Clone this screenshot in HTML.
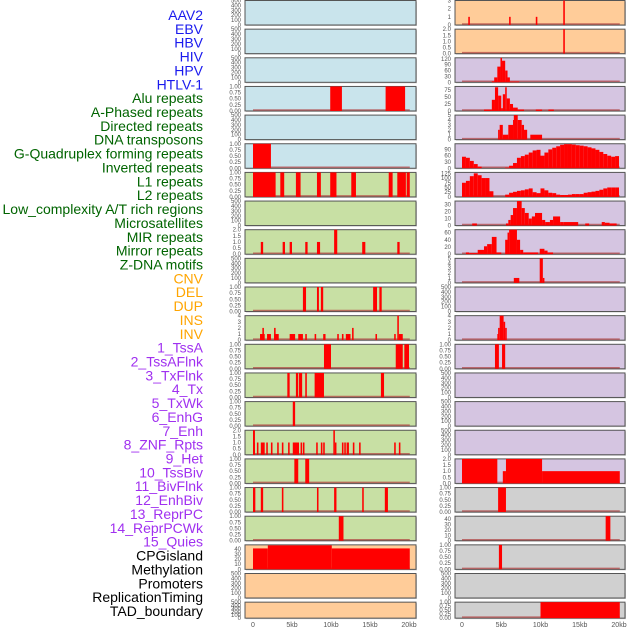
<!DOCTYPE html>
<html><head><meta charset="utf-8">
<style>
html,body{margin:0;padding:0;background:#fff;width:630px;height:630px;overflow:hidden}
svg text{font-family:"Liberation Sans",sans-serif}
</style></head>
<body>
<svg id="chart" width="630" height="630" viewBox="0 0 630 630" xmlns="http://www.w3.org/2000/svg">
<g id="labels"></g>
<g id="panels"></g>
<g id="xaxis"></g>
</svg>
<script>
const trackLabels = ["AAV2","EBV","HBV","HIV","HPV","HTLV-1","Alu repeats","A-Phased repeats","Directed repeats","DNA transposons","G-Quadruplex forming repeats","Inverted repeats","L1 repeats","L2 repeats","Low_complexity A/T rich regions","Microsatellites","MIR repeats","Mirror repeats","Z-DNA motifs","CNV","DEL","DUP","INS","INV","1_TssA","2_TssAFlnk","3_TxFlnk","4_Tx","5_TxWk","6_EnhG","7_Enh","8_ZNF_Rpts","9_Het","10_TssBiv","11_BivFlnk","12_EnhBiv","13_ReprPC","14_ReprPCWk","15_Quies","CPGisland","Methylation","Promoters","ReplicationTiming","TAD_boundary"];
const labelGroupCounts = [6,13,5,15,5];
const labelGroupColors = ["#1a1aee","#006400","#ffa500","#a030f0","#000000"];

const xTickValues = [0,5,10,15,20];
const xTickLabels = ["0","5kb","10kb","15kb","20kb"];

// left column panels (segments [startKb, endKb, value])
const leftSegs = [
 [],[],[],
 [[9.9,11.4,1],[17.0,19.5,1]],
 [],
 [[0,2.3,1]],
 [[0,2.9,1],[3.5,4.0,1],[5.5,6.1,1],[8.2,8.7,1],[9.9,10.7,1],[12.6,13.2,1],[17.4,17.9,1],[18.5,19.6,1],[19.7,20.1,1]],
 [],
 [[1.0,1.3,1],[3.8,4.1,1],[4.7,5.0,1],[6.7,7.0,1],[8.2,8.6,1],[10.4,10.8,2],[14.0,14.4,1],[18.5,18.8,1]],
 [],
 [[6.4,6.8,1],[8.2,8.45,1],[8.7,9.0,1],[15.4,15.9,1],[16.2,16.5,1]],
 [[0.9,1.5,1],[1.2,1.4,2],[1.8,2.3,1],[2.7,3.3,1],[2.7,2.9,2],[4.7,5.4,1],[5.8,6.4,1],[6.7,6.9,1],[7.9,8.1,1],[9.0,9.3,1],[10.8,11.0,1],[11.4,11.6,1],[11.9,12.5,1],[12.7,12.9,2],[15.7,15.9,1],[18.1,18.3,1],[18.5,18.7,4],[18.7,19.2,1]],
 [[9.1,10.0,1],[18.3,19.2,1],[19.4,20.0,1]],
 [[4.4,4.7,1],[5.5,5.8,1],[5.9,6.3,1],[6.7,6.9,1],[7.9,9.1,1],[16.4,16.8,1]],
 [[5.1,5.4,1]],
 [[0,0.25,2],[0,0.25,1],[0.5,0.7,1],[1.0,1.5,1],[1.7,1.9,1],[2.3,2.5,1],[3.1,3.3,1],[3.7,3.9,1],[4.5,4.7,1],[5.1,5.9,1],[6.1,6.3,1],[6.4,6.6,1],[8.1,8.3,1],[8.7,8.9,1],[9.0,9.2,1],[10.3,10.5,2],[10.5,10.7,1],[11.4,11.6,1],[11.7,11.9,1],[12.0,12.3,1],[12.8,13.0,1],[13.6,13.8,1],[18.1,18.3,1],[18.7,18.9,1]],
 [[5.3,5.8,1],[6.7,7.2,1]],
 [[0,0.3,1],[1.0,1.3,1],[3.7,3.9,1],[8.2,8.4,1],[10.4,10.7,1],[14.0,14.2,1],[16.9,17.3,1]],
 [[11.0,11.6,1]],
 [[0,1.9,41],[1.9,10.1,47],[10.1,20.1,41]],
 [],[]
];
const leftMax = [500,500,500,1,500,1,1,500,2,500,1,4,1,1,1,2,1,1,1,48,500,500];
const leftTicks = [
 [0,100,200,300,400,500],[0,100,200,300,400,500],[0,100,200,300,400,500],
 ["0.00","0.25","0.50","0.75","1.00"],[0,100,200,300,400,500],["0.00","0.25","0.50","0.75","1.00"],
 ["0.00","0.25","0.50","0.75","1.00"],[0,100,200,300,400,500],["0.0","0.5","1.0","1.5","2.0"],
 [0,100,200,300,400,500],["0.00","0.25","0.50","0.75","1.00"],[0,1,2,3,4],
 ["0.00","0.25","0.50","0.75","1.00"],["0.00","0.25","0.50","0.75","1.00"],["0.00","0.25","0.50","0.75","1.00"],
 ["0.0","0.5","1.0","1.5","2.0"],["0.00","0.25","0.50","0.75","1.00"],["0.00","0.25","0.50","0.75","1.00"],
 ["0.00","0.25","0.50","0.75","1.00"],[0,10,20,30,40],[0,100,200,300,400,500],[0,100,200,300,400,500]
];
const leftColors = ["#c9e4ec","#c9e4ec","#c9e4ec","#c9e4ec","#c9e4ec","#c9e4ec","#c8e0a4","#c8e0a4","#c8e0a4","#c8e0a4","#c8e0a4","#c8e0a4","#c8e0a4","#c8e0a4","#c8e0a4","#c8e0a4","#c8e0a4","#c8e0a4","#c8e0a4","#ffcc99","#ffcc99","#ffcc99"];

// right column panels
const binsR6 = [55,50,35,20,8,0,0,0,0,0,0,3,12,25,50,58,65,75,85,88,60,75,90,98,105,112,115,115,113,110,108,105,100,95,88,78,68,60,55,58];
const binsR7 = [75,85,110,125,115,100,100,30,0,0,0,12,22,27,32,35,40,45,25,20,45,35,22,20,12,10,10,12,15,15,15,22,25,28,32,38,45,50,50,50];
const rightSegs = [
 [[0.8,1.0,1],[6.0,6.2,1],[9.4,9.6,1],[12.9,13.1,3]],
 [[12.9,13.1,2]],
 [[3.8,4.1,5],[4.1,4.5,25],[4.5,4.9,80],[4.9,5.1,125],[5.1,5.5,110],[5.5,5.8,60],[5.8,6.1,25],[6.1,7.3,4]],
 [[2.8,3.8,5],[3.8,4.2,40],[4.2,4.6,85],[4.6,5.0,55],[5.0,5.2,10],[5.2,5.5,60],[5.5,5.7,85],[5.7,6.1,45],[6.1,6.5,25],[6.5,7.1,12],[7.1,7.9,5],[9.4,10.2,5],[11.0,11.7,5]],
 [[4.6,4.8,2],[4.8,5.2,3],[5.2,5.9,1],[5.9,6.5,3],[6.5,6.6,4],[6.6,7.1,5],[7.1,7.6,4],[7.6,7.9,3],[7.9,8.3,2],[8.7,10.2,1]],
 binsR6.map((v,i)=>[i*0.5,i*0.5+0.5,v]),
 binsR7.map((v,i)=>[i*0.5,i*0.5+0.5,v]),
 [[1.3,1.9,3],[5.6,5.9,3],[5.9,6.2,8],[6.2,6.5,15],[6.5,7.0,25],[7.0,7.6,35],[7.6,8.0,25],[8.0,8.5,18],[8.5,8.9,10],[8.9,9.3,13],[9.3,10.2,18],[10.2,10.6,8],[10.6,11.2,5],[11.2,11.6,8],[11.6,12.5,13],[12.5,12.9,5],[12.9,14.8,5],[15.7,16.2,3],[17.8,18.2,5],[18.2,18.8,4],[18.8,19.7,3]],
 [[0.5,0.9,5],[0.9,2.0,3],[2.0,2.8,12],[2.8,3.2,22],[3.2,3.8,28],[3.8,4.4,48],[4.4,5.0,5],[5.5,5.8,40],[5.8,6.0,60],[6.0,7.0,68],[7.0,7.4,40],[7.4,7.8,12],[7.8,9.7,5],[9.9,10.5,15],[10.5,10.9,10],[10.9,11.6,5]],
 [[6.6,7.3,1],[9.9,10.3,5],[10.3,10.5,1]],
 [],
 [[4.5,4.7,1],[4.6,4.8,2],[4.8,5.3,4],[5.3,5.5,3],[5.5,5.7,2]],
 [[4.2,4.7,1],[5.1,5.5,1]],
 [],[],[],
 [[0,4.5,2],[5.2,5.6,1],[5.6,10.2,2],[10.2,20.1,1]],
 [[4.6,5.6,1]],
 [[18.3,18.9,45]],
 [[4.7,5.1,1]],
 [],
 [[10.0,20.1,1]]
];
const rightMax = [3,2,125,88,5,117,130,35,68,5,500,4,1,500,500,500,2,1,45,1,500,1];
const rightTicks = [
 [0,1,2,3],["0.0","0.5","1.0","1.5","2.0"],[0,30,60,90,120],[0,25,50,75],[0,1,2,3,4,5],[0,30,60,90],
 [0,25,50,75,100,125],[0,10,20,30],[0,20,40,60],[0,1,2,3,4,5],[0,100,200,300,400,500],[0,1,2,3,4],
 ["0.00","0.25","0.50","0.75","1.00"],[0,100,200,300,400,500],[0,100,200,300,400,500],[0,100,200,300,400,500],
 ["0.0","0.5","1.0","1.5","2.0"],["0.00","0.25","0.50","0.75","1.00"],[0,10,20,30,40],["0.00","0.25","0.50","0.75","1.00"],
 [0,100,200,300,400,500],["0.00","0.25","0.50","0.75","1.00"]
];
const rightColors = ["#ffcc99","#ffcc99","#d5c5e1","#d5c5e1","#d5c5e1","#d5c5e1","#d5c5e1","#d5c5e1","#d5c5e1","#d5c5e1","#d5c5e1","#d5c5e1","#d5c5e1","#d5c5e1","#d5c5e1","#d5c5e1","#d5c5e1","#d0d0d0","#d0d0d0","#d0d0d0","#d0d0d0","#d0d0d0"];

const NS = "http://www.w3.org/2000/svg";
function mk(tag, attrs, parent){const e=document.createElementNS(NS,tag);for(const k in attrs)e.setAttribute(k,attrs[k]);parent.appendChild(e);return e;}

// labels
const lg = document.getElementById("labels");
let li = 0;
labelGroupCounts.forEach((c,g)=>{
  for(let j=0;j<c;j++){
    const t = mk("text",{x:203,y:15+li*13.86+5,"text-anchor":"end","font-size":"14",fill:labelGroupColors[g]},lg);
    t.textContent = trackLabels[li];
    
    
    li++;
  }
});

const cols = [
  {x0:245,w:171,zero:253,kbPx:7.8,segs:leftSegs,max:leftMax,ticks:leftTicks,colors:leftColors,name:"left"},
  {x0:455,w:170,zero:462,kbPx:7.85,segs:rightSegs,max:rightMax,ticks:rightTicks,colors:rightColors,name:"right"}
];
const pg = document.getElementById("panels");
function rowTop(i){return i*28.65+0.5;}
function rowH(i){return i===21?16:24.5;}

cols.forEach(col=>{
  const xs = kb=>col.zero+kb*col.kbPx;
  for(let i=0;i<22;i++){
    const top=rowTop(i), h=rowH(i), bottom=top+h;
    const ys = v=>bottom-(v/col.max[i])*h;
    const g = mk("g",{},pg);
    
    
    mk("rect",{x:col.x0+1,y:top+1,width:col.w,height:h,fill:"#999",opacity:0.5},g);
    mk("rect",{x:col.x0,y:top,width:col.w,height:h,fill:col.colors[i],stroke:"#555","stroke-width":1},g);
    const segs = col.segs[i];
    if(segs.length){
      mk("line",{x1:xs(0),x2:xs(20.1),y1:bottom-1,y2:bottom-1,stroke:"#b04040","stroke-width":1.5,opacity:0.7},g);
    }
    segs.forEach(s=>{
      const r = mk("rect",{x:xs(s[0]),y:ys(s[2]),width:Math.max(1.5,xs(s[1])-xs(s[0])),height:bottom-ys(s[2]),fill:"#ff0000"},g);
      
      
    });
    const tk = col.ticks[i];
    const n = tk.length;
    tk.forEach((lab,k)=>{
      const v = typeof lab==="number"?lab:parseFloat(lab);
      const t = mk("text",{x:col.x0-4,y:ys(v)+2,"text-anchor":"end","font-size":"6","fill":"#555"},g);
      t.textContent = String(lab);
      
      
    });
  }
  const xg = document.getElementById("xaxis");
  xTickValues.forEach((v,k)=>{
    const t = mk("text",{x:xs(v),y:627,"text-anchor":"middle","font-size":"7",fill:"#555"},xg);
    t.textContent = xTickLabels[k];
    
    
  });
});
</script>
</body></html>
